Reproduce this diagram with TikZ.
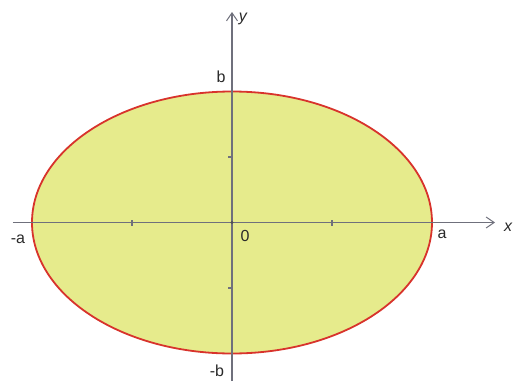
\documentclass[tikz,border=0pt]{standalone}
\usepackage{fontspec}
\setmainfont{Liberation Sans}
\usepackage{xcolor}
\usepackage{tikz}
\usetikzlibrary{arrows.meta}
\definecolor{EFill}{HTML}{E6EB8C}
\definecolor{ERed}{HTML}{D8332C}
\definecolor{EAxis}{HTML}{6F707C}
\definecolor{EText}{HTML}{2A2A2A}

\begin{document}
\begin{tikzpicture}[
  x=1pt,y=1pt,
  every node/.style={font=\fontsize{16}{16}\selectfont,text=EText,inner sep=0pt},
  curve/.style={draw=ERed,line width=1.8pt,fill=EFill},
  axis/.style={-{Straight Barb[length=8pt,width=11pt,line width=1pt]},
    draw=EAxis,line width=1.2pt},
  tick/.style={draw=EAxis,line width=1.1pt}
]
  \useasboundingbox (-232,-158.5) rectangle (282,222.5);
  \fill[white] (-232,-158.5) rectangle (282,222.5);

  \path[curve] (0,0) ellipse [x radius=200,y radius=131];

  \coordinate (O) at (0,0);
  \coordinate (xstart) at (-219,0);
  \coordinate (xend) at (263,0);
  \coordinate (ystart) at (0,-158.5);
  \coordinate (yend) at (0,210.5);

  \draw[axis] (xstart) -- (xend);
  \draw[axis] (ystart) -- (yend);
  \foreach \t in {-100,100}
    \draw[tick] (\t,-3) -- (\t,3);
  \foreach \t in {-65.5,65.5}
    \draw[tick] (-3.5,\t) -- (1,\t);
  \fill[EAxis!70!black] (O) circle (1.6);

  \node (ylabel) at (11,203.5) {\itshape y};
  \node[anchor=west] (xlabel) at (272,-4.5) {\itshape x};
  \node (blabel) at (-11,146) {b};
  \node (mblabel) at (-15,-148.5) {-b};
  \node (malabel) at (-214,-16.5) {-a};
  \node (alabel) at (210,-11.5) {a};
  \node (olabel) at (13,-13.5) {0};
\end{tikzpicture}
\end{document}
